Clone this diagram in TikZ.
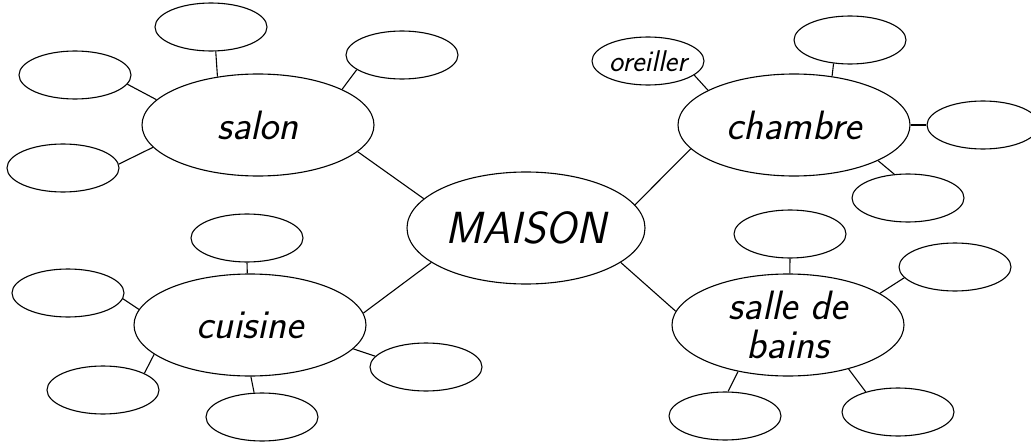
\documentclass[tikz,border=0pt]{standalone}
\usepackage{tikz}
\usetikzlibrary{shapes.geometric}
\tikzset{
  basic/.style  = {draw, ellipse, line width=1.1pt, inner sep=0pt, font=\sffamily\itshape},
  root/.style   = {basic, minimum width=238pt, minimum height=112pt,
                   font=\sffamily\itshape\fontsize{45}{50}\selectfont},
  topic/.style  = {basic, minimum width=232pt, minimum height=102pt, align=center,
                   font=\sffamily\itshape\fontsize{41}{40}\selectfont},
  leaf/.style   = {basic, minimum width=112pt, minimum height=48pt,
                   font=\sffamily\itshape\fontsize{30}{32}\selectfont}
}
\begin{document}
\begin{tikzpicture}[x=1pt,y=-1pt,line width=1.1pt]
\useasboundingbox (0,0) rectangle (1031,444);

% centre and the four rooms
\node[root]  (m)  at (526,228) {MAISON};
\node[topic] (c1) at (258,125) {salon};
\node[topic] (c2) at (794,125) {chambre};
\node[topic] (c3) at (250,325) {cuisine};
\node[topic] (c4) at (788,325) {salle de\\[-1pt]bains};

% the empty ones round each room
\begin{scope}[every node/.style={leaf}]
\node (c11) at (211,27)  {};
\node (c12) at (402,55)  {};
\node (c13) at (75,75)   {};
\node (c14) at (63,168)  {};
\node (c21) at (648,61)  {oreiller};
\node (c22) at (850,40)  {};
\node (c23) at (983,125) {};
\node (c24) at (908,198) {};
\node (c31) at (247,238) {};
\node (c32) at (68,293)  {};
\node (c33) at (103,390) {};
\node (c34) at (262,417) {};
\node (c35) at (426,367) {};
\node (c41) at (790,234) {};
\node (c42) at (955,267) {};
\node (c43) at (725,416) {};
\node (c44) at (898,412) {};
\end{scope}

% lines from the centre to the rooms
\draw (m.164) -- (c1.-15);
\draw (m.12)  -- (c2.193);
\draw (m.200) -- (c3.6);
\draw (m.-20) -- (c4.173);

% lines from each room to its ellipses
\foreach \n/\a/\b in {1/130/-79, 2/23/198, 3/166/-10, 4/192/4}
  \draw (c1.\a) -- (c1\n.\b);

\foreach \n/\a/\b in {1/158/-17, 2/52/-125, 3/0/180, 4/-23/120}
  \draw (c2.\a) -- (c2\n.\b);

\foreach \n/\a/\b in {1/93/-90, 2/172/-6, 3/197/22, 4/-89/108, 5/-13/168}
  \draw (c3.\a) -- (c3\n.\b);

\foreach \n/\a/\b in {1/88/-90, 2/19/192, 3/223/83, 4/-36/148}
  \draw (c4.\a) -- (c4\n.\b);

\end{tikzpicture}
\end{document}
